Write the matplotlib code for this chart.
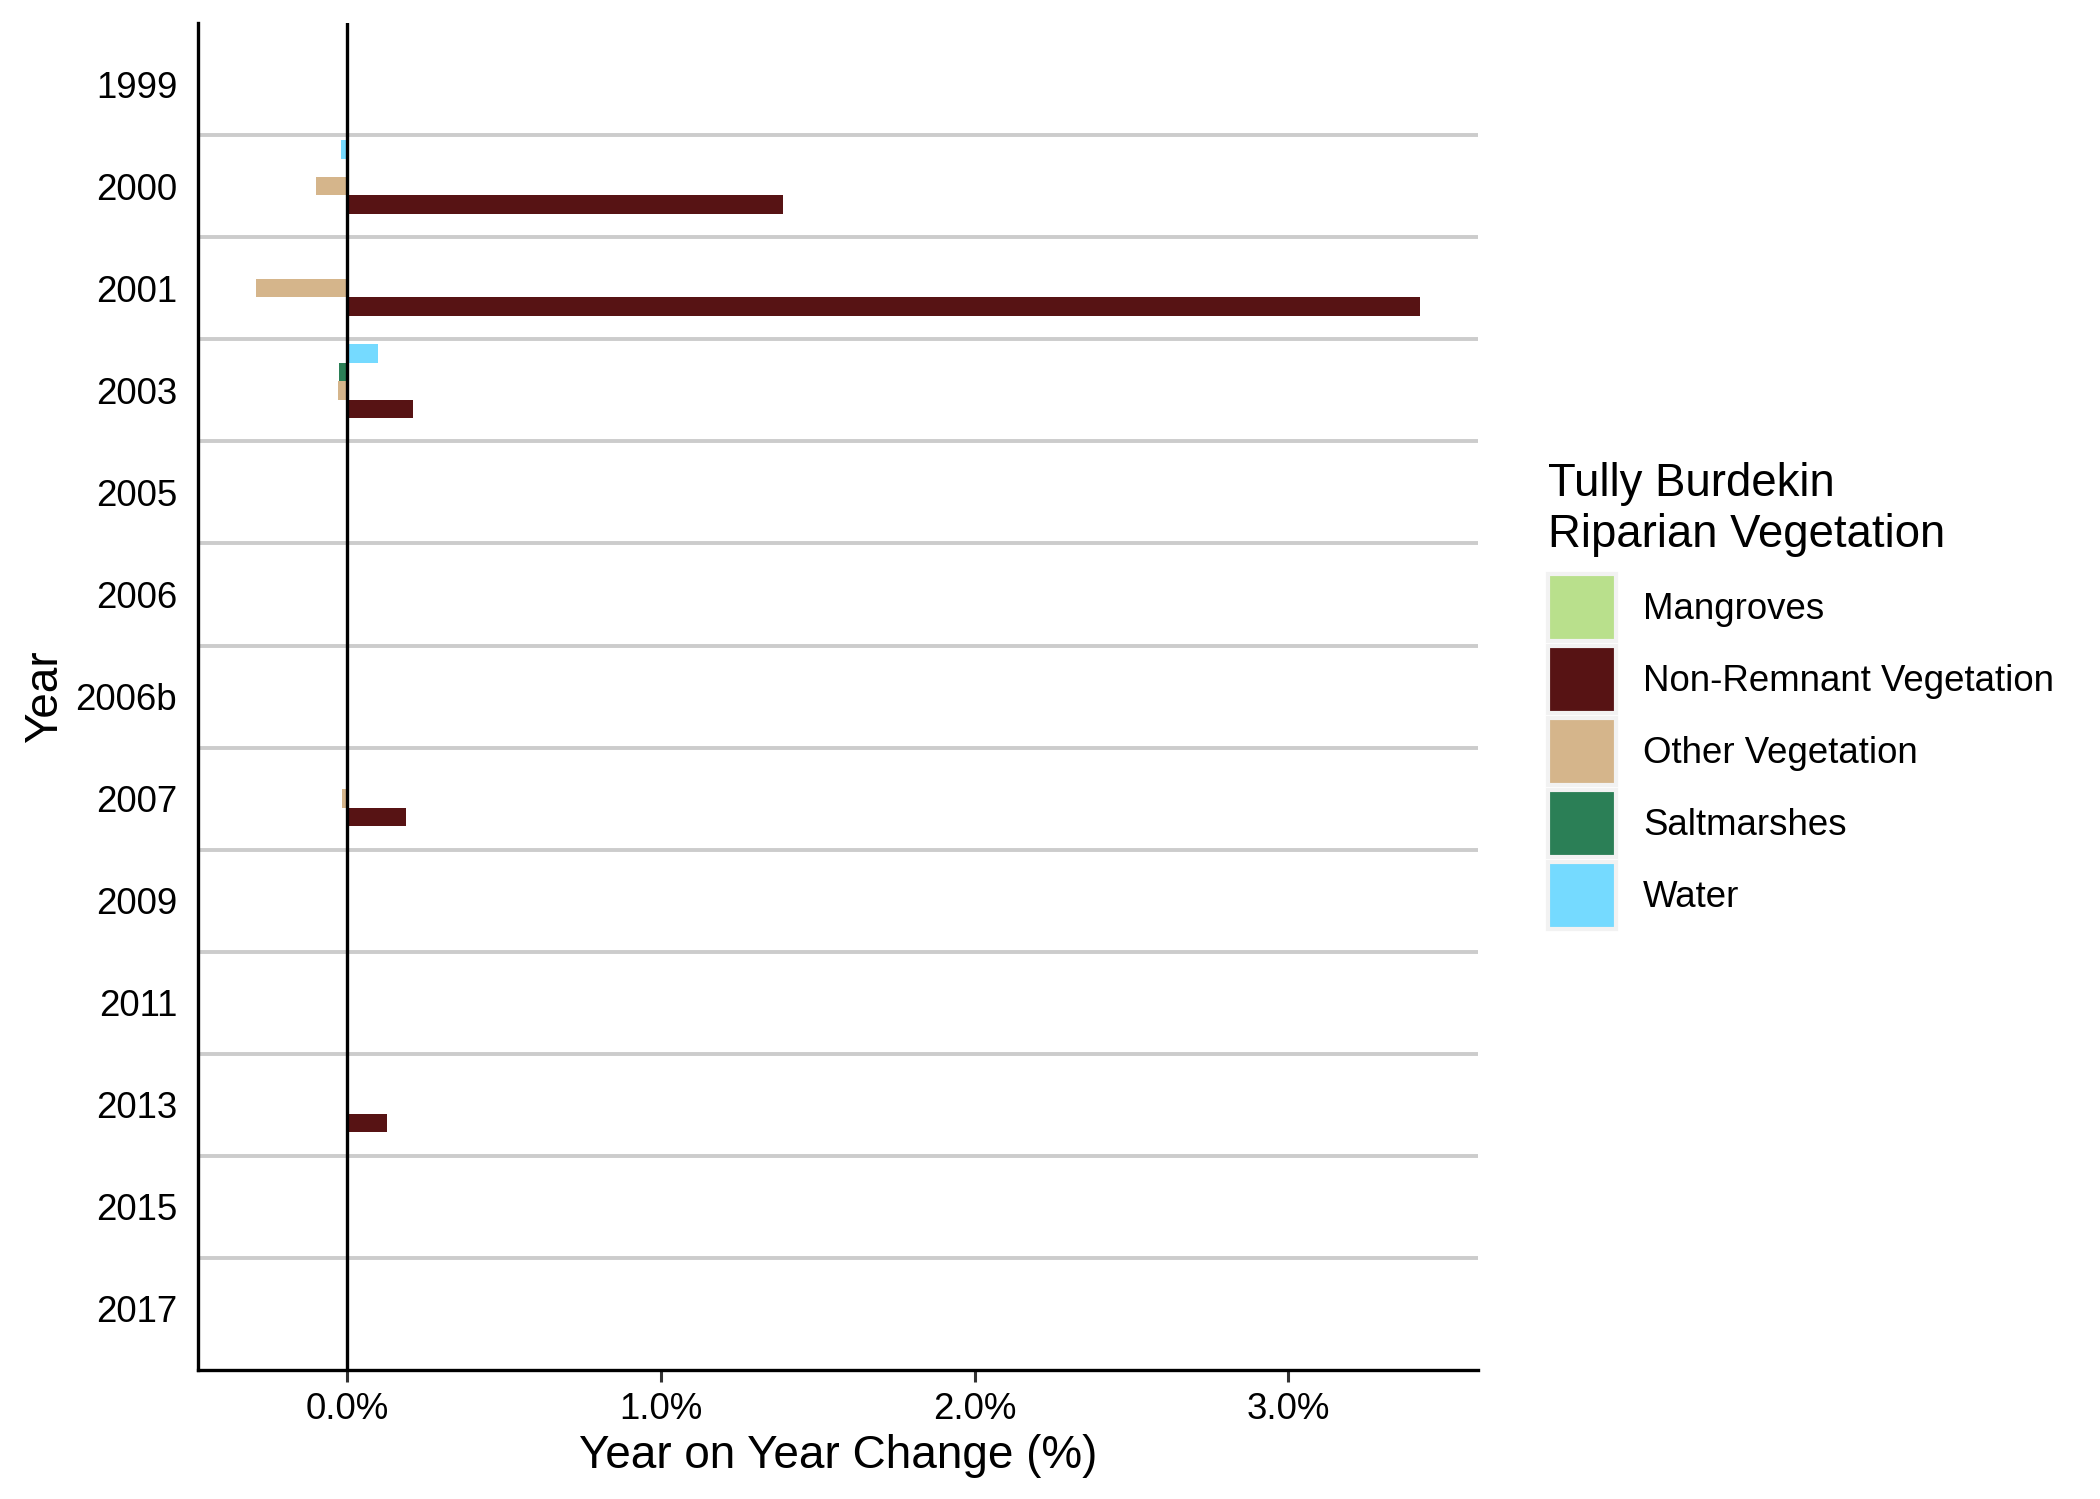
import matplotlib
matplotlib.use("Agg")
import matplotlib.pyplot as plt
from matplotlib.patches import Patch
from matplotlib.ticker import FuncFormatter
import numpy as np

plt.rcParams['font.family'] = ['Liberation Sans', 'DejaVu Sans']

years = ["1999", "2000", "2001", "2003", "2005", "2006", "2006b",
         "2007", "2009", "2011", "2013", "2015", "2017"]
series = ["Mangroves", "Non-Remnant Vegetation", "Other Vegetation",
          "Saltmarshes", "Water"]
colors = ["#B9E08C", "#571314", "#D5B58B", "#2B7F56", "#75DAFF"]

# year-on-year change (%), one list per series, aligned with `years`
mangroves   = [0, 0, 0, 0, 0, 0, 0, 0, 0, 0, 0, 0, 0]
non_remnant = [0, 1.39, 3.42, 0.21, 0, 0, 0, 0.186, 0, 0, 0.127, 0, 0]
other_veg   = [0, -0.10, -0.29, -0.030, 0, 0, 0, -0.015, 0, 0, -0.004, 0, 0]
saltmarsh   = [0, 0, 0, -0.025, 0, 0, 0, 0, 0, 0, 0, 0, 0]
water       = [0, -0.020, 0, 0.097, 0, 0, 0, 0, 0, 0, 0, 0, 0]
values = [mangroves, non_remnant, other_veg, saltmarsh, water]

x_ticks = [0, 1, 2, 3]

fig = plt.figure(figsize=(10.5, 7.495), dpi=200)
ax = fig.add_axes([0.0943, 0.0859, 0.6096, 0.8988])

n = len(years)
pos = np.arange(n)
total_w = 0.9
bw = total_w / len(series)
for k, (name, vals, col) in enumerate(zip(series, values, colors)):
    offset = (len(series) - 1) / 2 * bw - k * bw
    ax.barh(pos + offset, vals, height=bw, color=col, zorder=3, linewidth=0)

# horizontal separators between years
for b in np.arange(n - 1) + 0.5:
    ax.axhline(b, color="#CCCCCC", lw=1.4, zorder=1)
ax.axvline(0, color="black", lw=1.2, zorder=4)

allv = np.concatenate([np.array(v, dtype=float) for v in values])
lo, hi = min(allv.min(), 0), max(allv.max(), 0)
rng = hi - lo
ax.set_xlim(lo - 0.05 * rng, hi + 0.05 * rng)
ax.set_ylim(n - 1 + 0.6, -0.6)

ax.set_yticks(pos)
ax.set_yticklabels(years)
ax.set_xticks(x_ticks)
ax.xaxis.set_major_formatter(FuncFormatter(lambda v, p: f"{v:.1f}%"))

ax.tick_params(axis="y", length=0, pad=7.5, labelsize=13.2, labelcolor="black")
ax.tick_params(axis="x", length=4.3, width=1.1, color="#333333", pad=3.5,
               labelsize=13.2, labelcolor="black")

for s in ["top", "right"]:
    ax.spines[s].set_visible(False)
for s in ["left", "bottom"]:
    ax.spines[s].set_linewidth(1.2)
    ax.spines[s].set_color("black")

ax.set_xlabel("Year on Year Change (%)", fontsize=16.5, labelpad=2.5)
ax.set_ylabel("Year", fontsize=16.5, labelpad=3)

handles = [Patch(facecolor=c, edgecolor="#F2F2F2", linewidth=1.5) for c in colors]
leg = fig.legend(handles, series, loc="upper left",
                 bbox_to_anchor=(0.7372, 0.6921), frameon=False,
                 title="Tully Burdekin\nRiparian Vegetation",
                 title_fontsize=16.4, fontsize=13.2,
                 handlelength=1.85, handleheight=2.46, handletextpad=0.74,
                 labelspacing=0.12, borderpad=0, borderaxespad=0,
                 alignment="left")
leg.get_title().set_linespacing(1.22)
leg._legend_box.sep = 6

fig.savefig("out.png", dpi=200, facecolor="white")
